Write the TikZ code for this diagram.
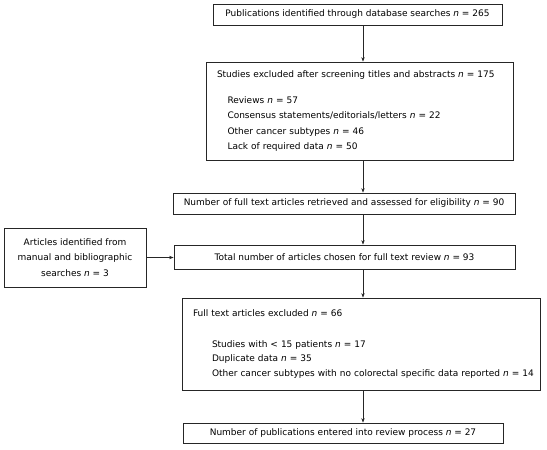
\documentclass[tikz,border=0pt]{standalone}
\usepackage{fontspec}
\setmainfont{DejaVu Sans}
\usepackage{tikz}
\usetikzlibrary{arrows.meta,calc}

\begin{document}
\begin{tikzpicture}[
  x=1pt, y=-1pt,
  font=\fontsize{9}{15.5}\selectfont,
  stage/.style={draw=black!85, line width=0.75pt, inner sep=0pt, align=center},
  listbox/.style={draw=black!85, line width=0.75pt, inner xsep=11pt, inner ysep=0pt, align=left},
  flow/.style={-{Stealth[length=4.5pt,width=3.4pt]}, line width=0.65pt, draw=black!85},
]
  \useasboundingbox (0,0) rectangle (547,450);

  % --- spine for the vertical arrows ---
  \coordinate (spine) at (363,0);

  % --- main column ---
  \node[stage, minimum width=289pt, minimum height=21pt] (pubs) at (357.5,14.5)
    {Publications identified through database searches \textit{n} = 265};

  \node[listbox, text width=285pt, minimum height=98pt] (screened) at (359.5,111)
    {Studies excluded after screening titles and abstracts \textit{n} = 175\\[10.5pt]
     \hspace*{10.5pt}Reviews \textit{n} = 57\\
     \hspace*{10.5pt}Consensus statements/editorials/letters \textit{n} = 22\\
     \hspace*{10.5pt}Other cancer subtypes \textit{n} = 46\\
     \hspace*{10.5pt}Lack of required data \textit{n} = 50};

  \node[stage, minimum width=342pt, minimum height=21pt] (retrieved) at (344,203.5)
    {Number of full text articles retrieved and assessed for eligibility \textit{n} = 90};

  \node[stage, minimum width=341pt, minimum height=24pt] (chosen) at (344.5,257)
    {Total number of articles chosen for full text review \textit{n} = 93};

  \node[listbox, text width=336pt, minimum height=92pt,
        font=\fontsize{9}{14.5}\selectfont] (fullexcl) at (361,344)
    {Full text articles excluded \textit{n} = 66\\[16pt]
     \hspace*{19pt}Studies with < 15 patients \textit{n} = 17\\
     \hspace*{19pt}Duplicate data \textit{n} = 35\\
     \hspace*{19pt}\mbox{Other cancer subtypes with no colorectal specific data reported \textit{n} = 14}};

  \node[stage, minimum width=320pt, minimum height=20pt] (entered) at (343,433)
    {Number of publications entered into review process \textit{n} = 27};

  % --- side input ---
  \node[stage, minimum width=142pt, minimum height=59pt] (manual) at (75,257.5)
    {Articles identified from\\manual and bibliographic\\searches \textit{n} = 3};

  % --- arrows ---
  \draw[flow] (spine |- pubs.south) -- (spine |- screened.north);
  \draw[flow] (spine |- screened.south) -- (spine |- retrieved.north);
  \draw[flow] (spine |- retrieved.south) -- (spine |- chosen.north);
  \draw[flow] (spine |- chosen.south) -- (spine |- fullexcl.north);
  \draw[flow] (spine |- fullexcl.south) -- (spine |- entered.north);
  \draw[flow] (manual.east) -- (manual.east -| chosen.west);

\end{tikzpicture}
\end{document}
